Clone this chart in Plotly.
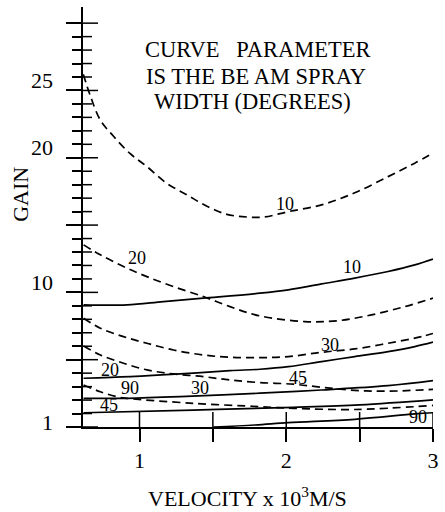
import plotly.graph_objects as go

# ---- data (axis units) ----
d10_x = [0.617, 0.665, 0.733, 0.823, 0.937, 1.05, 1.186, 1.322, 1.459, 1.595, 1.731, 1.85, 2.014, 2.241, 2.467, 2.694, 2.876, 3.0]
d10_y = [26.2, 24.6, 22.8, 21.6, 20.3, 19.35, 18.1, 17.25, 16.4, 15.8, 15.6, 15.6, 16.0, 16.5, 17.4, 18.6, 19.6, 20.35]

s10_x = [0.619, 0.914, 1.163, 1.435, 1.821, 2.014, 2.241, 2.467, 2.694, 2.876, 3.0]
s10_y = [9.07, 9.07, 9.32, 9.57, 9.94, 10.19, 10.63, 11.06, 11.55, 12.04, 12.47]

d20_x = [0.619, 0.733, 0.891, 1.05, 1.231, 1.435, 1.617, 1.821, 2.127, 2.354, 2.581, 2.807, 3.0]
d20_y = [13.53, 12.79, 11.92, 11.17, 10.43, 9.69, 8.94, 8.25, 7.83, 7.90, 8.33, 8.94, 9.57]

d30_x = [0.619, 0.733, 0.891, 1.05, 1.231, 1.435, 1.617, 1.821, 2.014, 2.241, 2.467, 2.694, 2.921, 3.0]
d30_y = [8.08, 7.34, 6.71, 6.22, 5.72, 5.35, 5.18, 5.15, 5.23, 5.55, 5.80, 6.22, 6.71, 6.95]

s20_x = [0.619, 0.937, 1.277, 1.617, 1.821, 2.014, 2.241, 2.467, 2.694, 2.876, 3.0]
s20_y = [3.62, 3.74, 3.94, 4.19, 4.29, 4.48, 4.86, 5.23, 5.60, 5.97, 6.30]

d45_x = [0.619, 0.733, 0.891, 1.05, 1.231, 1.435, 1.617, 1.821, 2.048, 2.241, 2.467, 2.694, 3.0]
d45_y = [6.02, 5.35, 4.74, 4.24, 3.94, 3.74, 3.49, 3.30, 3.18, 2.95, 2.72, 2.66, 2.80]

s30_x = [0.619, 0.914, 1.277, 1.821, 2.241, 2.694, 3.0]
s30_y = [2.13, 2.13, 2.25, 2.51, 2.75, 3.07, 3.44]

d90_x = [0.619, 0.733, 0.846, 0.914, 1.367, 1.821, 2.048, 2.467, 3.0]
d90_y = [3.12, 2.62, 2.25, 2.13, 1.76, 1.51, 1.39, 1.30, 1.60]

s45_x = [0.619, 1.367, 2.048, 2.5, 3.0]
s45_y = [1.06, 1.26, 1.46, 1.64, 2.01]

s90_x = [1.503, 1.787, 2.014, 2.467, 2.876, 3.0]
s90_y = [0.0, 0.15, 0.32, 0.57, 0.97, 1.06]

curves = [
    (d10_x, d10_y, "dash"), (s10_x, s10_y, "solid"),
    (d20_x, d20_y, "dash"), (d30_x, d30_y, "dash"),
    (s20_x, s20_y, "solid"), (d45_x, d45_y, "dash"),
    (s30_x, s30_y, "solid"), (d90_x, d90_y, "dash"),
    (s45_x, s45_y, "solid"), (s90_x, s90_y, "solid"),
]

# curve labels
lab_text = ["10", "10", "20", "30", "20", "45", "90", "30", "45", "90"]
lab_x = [1.99, 2.446, 0.984, 2.297, 0.80, 2.08, 0.937, 1.413, 0.789, 2.898]
lab_y = [16.6, 11.9, 12.55, 6.10, 4.24, 3.62, 2.88, 2.88, 1.64, 0.72]

# note lines (text block inside the plot)
note_lines = ["CURVE&nbsp;&nbsp; PARAMETER", "IS THE BE AM SPRAY", "WIDTH (DEGREES)"]
note_x = [1.807, 1.797, 1.767]
note_y = [28.03, 26.04, 24.19]

# axis ticks / labels
x_label_vals = [1, 2, 3]
x_label_text = ["1", "2", "3"]
x_half_vals = [1.5, 2.5]
x_all_ticks = [1, 1.5, 2, 2.5, 3]
y_major = [0, 5, 10, 15, 20, 25, 30]
y_minor = [v for v in range(0, 30) if v % 5 != 0]
y_label_vals = [0, 10, 20, 25]
y_label_text = ["1", "10", "20", "25"]

FONT = "'Liberation Serif', 'Times New Roman', Times, serif"
XR = [0.615, 3.0]
YR = [0, 31.2]

fig = go.Figure()
for xs, ys, dash in curves:
    fig.add_trace(go.Scatter(
        x=xs, y=ys, mode="lines",
        line=dict(color="black", width=1.7, shape="spline",
                  dash="8px,5px" if dash == "dash" else "solid"),
        showlegend=False, hoverinfo="skip"))

ann = []
for t, x, y in zip(lab_text, lab_x, lab_y):
    ann.append(dict(x=x, y=y, text=t, showarrow=False, xref="x", yref="y",
                    font=dict(family=FONT, size=18, color="black")))
for v, t in zip(y_label_vals, y_label_text):
    ann.append(dict(x=0, y=v, xref="paper", yref="y", text=t, showarrow=False,
                    xanchor="right", xshift=-28, yshift=5 if v == 0 else 10,
                    font=dict(family=FONT, size=22, color="black")))
for t, x, y in zip(note_lines, note_x, note_y):
    ann.append(dict(x=x, y=y, xref="x", yref="y", text=t, showarrow=False,
                    font=dict(family=FONT, size=22.5, color="black")))
ann.append(dict(x=0, y=(427 - 195) / 13.45, xref="paper", yref="y", text="GAIN",
                textangle=-90, showarrow=False, xanchor="center", xshift=-62,
                font=dict(family=FONT, size=22, color="black")))
ann.append(dict(x=1 + (247.5 - 139.3) / 147, y=0, xref="x", yref="y",
                text="VELOCITY x 10<sup>3</sup>M/S", showarrow=False,
                yanchor="middle", yshift=-70,
                font=dict(family=FONT, size=22, color="black")))

# inner halves of the axis ticks (ticks cross the axis lines)
shapes = []
tick_line = dict(color="black", width=1.5)
for v in x_all_ticks:
    shapes.append(dict(type="line", xref="x", yref="y", x0=v, x1=v,
                       ysizemode="pixel", yanchor=YR[0], y0=0, y1=15, line=tick_line))
for v in y_major:
    shapes.append(dict(type="line", yref="y", xref="x", y0=v, y1=v,
                       xsizemode="pixel", xanchor=XR[0], x0=0, x1=15, line=tick_line))
for v in y_minor:
    shapes.append(dict(type="line", yref="y", xref="x", y0=v, y1=v,
                       xsizemode="pixel", xanchor=XR[0], x0=0, x1=9, line=tick_line))

axis_common = dict(showgrid=False, zeroline=False)
fig.update_layout(
    width=445, height=512,
    margin=dict(l=83, r=12, t=7, b=85),
    paper_bgcolor="white", plot_bgcolor="white",
    font=dict(family=FONT, size=21, color="black"),
    xaxis=dict(range=XR, tickvals=x_label_vals, ticktext=x_label_text,
               ticks="outside", ticklen=13, tickwidth=1.5, tickcolor="black",
               minor=dict(tickvals=x_half_vals, ticks="outside", ticklen=13,
                          tickwidth=1.5, tickcolor="black"),
               showline=True, linewidth=2, linecolor="black",
               tickfont=dict(family=FONT, size=22, color="black"),
               **axis_common),
    yaxis=dict(range=YR, tickvals=y_major, showticklabels=False,
               ticks="outside", ticklen=15, tickwidth=1.5, tickcolor="black",
               minor=dict(tickvals=y_minor, ticks="outside", ticklen=9,
                          tickwidth=1.5, tickcolor="black"),
               showline=True, linewidth=2, linecolor="black",
               **axis_common),
    shapes=shapes,
    annotations=ann,
)

fig.write_html("out.html")
